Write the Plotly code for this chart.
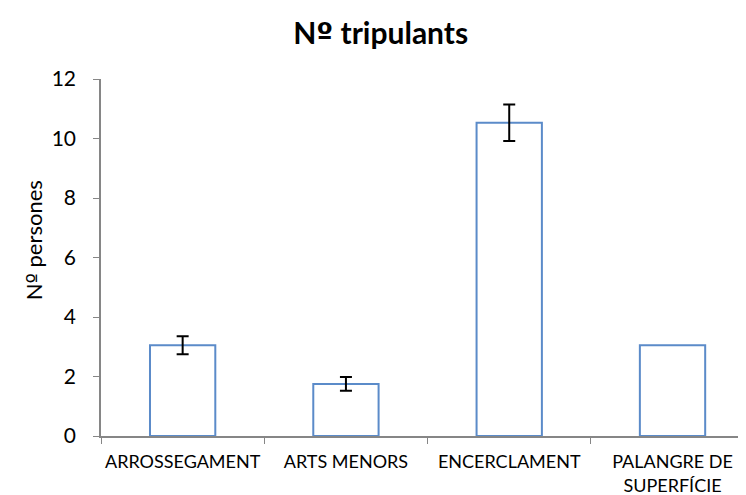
import plotly.graph_objects as go

# data
categories = ["ARROSSEGAMENT", "ARTS MENORS", "ENCERCLAMENT", "PALANGRE DE<br>SUPERFÍCIE"]
tripulants = [3.05, 1.75, 10.53, 3.05]
error_sd = [0.3, 0.23, 0.61]  # the last category has no error bar
y_ticks = [0, 2, 4, 6, 8, 10, 12]

axis_grey = "#868686"
ordinal = "<span style=\"font-family:'DejaVu Sans'\">º</span>"
n_err = len(error_sd)

fig = go.Figure()
fig.add_trace(go.Bar(
    x=categories,
    y=tripulants,
    width=0.4,
    marker=dict(color="white", line=dict(color="#5B8BC9", width=2)),
))
# error bars on an invisible scatter so the last bar gets none
fig.add_trace(go.Scatter(
    x=categories[:n_err],
    y=tripulants[:n_err],
    mode="markers",
    marker=dict(opacity=0),
    error_y=dict(type="data", array=error_sd, visible=True,
                 color="black", thickness=2, width=6),
    hoverinfo="skip",
))

fig.update_layout(
    width=738, height=487,
    margin=dict(l=93, r=0, t=71, b=59),
    plot_bgcolor="white", paper_bgcolor="white",
    showlegend=False,
    font=dict(family="Lato, sans-serif", color="black"),
    title=dict(text=f"<b>N{ordinal} tripulants</b>", x=0.505, xanchor="center",
               y=0.948, yanchor="middle", font=dict(size=30)),
)
# y axis title drawn as annotation, sits a bit above the axis middle
fig.add_annotation(
    text=f"N{ordinal} persones", textangle=-90,
    xref="paper", yref="paper", x=-0.105, y=0.549,
    xanchor="center", yanchor="middle", showarrow=False,
    font=dict(size=22),
)
fig.update_xaxes(
    range=[-0.5, 3.45], automargin=False, tickangle=0,
    showline=True, linecolor=axis_grey, linewidth=1.5,
    ticks="outside", tickson="boundaries", tickcolor=axis_grey, ticklen=6,
    tickfont=dict(size=18), ticklabelstandoff=9, showgrid=False,
)
fig.update_yaxes(
    range=[0, 12], tickvals=y_ticks, automargin=False,
    showline=True, linecolor=axis_grey, linewidth=1.5,
    ticks="outside", tickcolor=axis_grey, ticklen=6,
    tickfont=dict(size=21), ticklabelstandoff=13, showgrid=False, zeroline=False,
)

fig.write_html("out.html")
